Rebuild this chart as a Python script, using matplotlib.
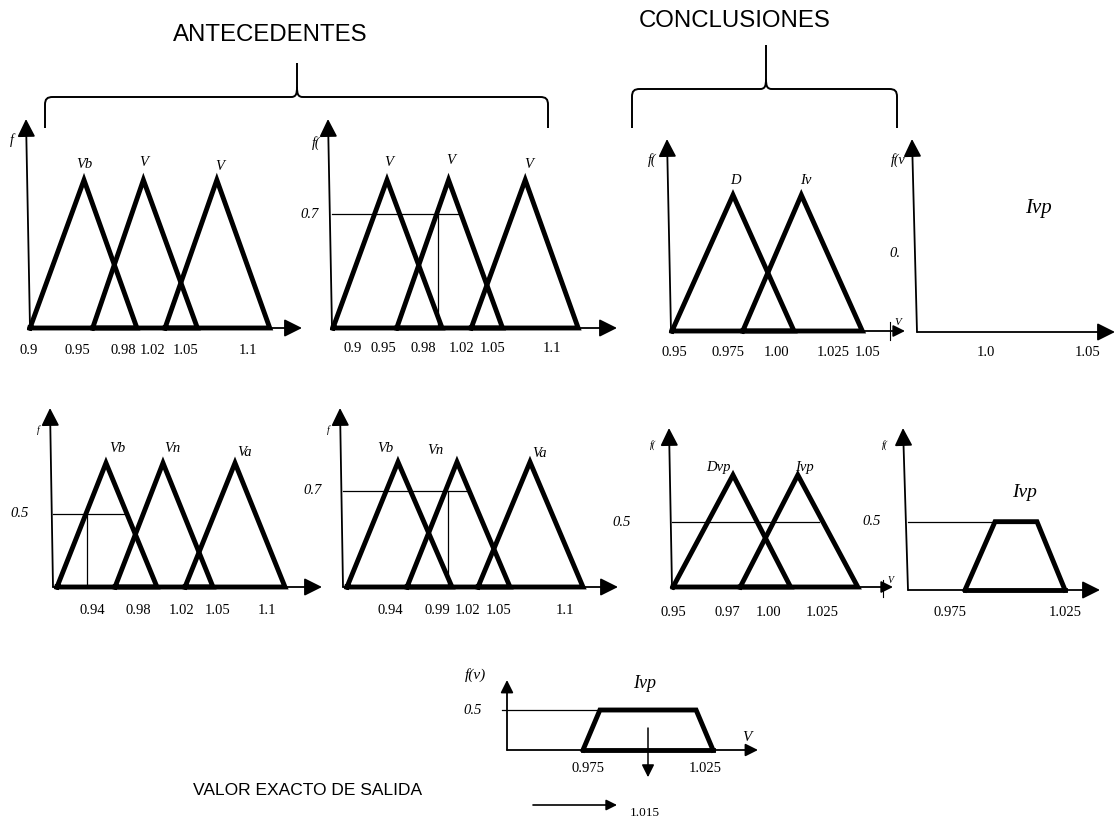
import matplotlib
matplotlib.use("Agg")
import matplotlib.pyplot as plt
from matplotlib.path import Path
from matplotlib.patches import PathPatch

W, H = 1117, 822
SERIF = ["Liberation Serif", "DejaVu Serif"]
SANS = ["Liberation Sans", "DejaVu Sans"]

# ---------------- data (volts / membership) ----------------
# Antecedente 1 (row 1, left)
a1_names = ["Vb", "V", "V"]
a1_left = [0.900, 0.958, 1.025]
a1_peak = [0.950, 1.005, 1.073]
a1_right = [0.999, 1.055, 1.122]
a1_tick_pos = [0.899, 0.944, 0.986, 1.013, 1.044, 1.102]
a1_tick_lab = ["0.9", "0.95", "0.98", "1.02", "1.05", "1.1"]

# Antecedente 2 (row 1, second)
a2_names = ["V", "V", "V"]
a2_left = [0.900, 0.959, 1.028]
a2_peak = [0.950, 1.007, 1.078]
a2_right = [1.001, 1.057, 1.127]
a2_cut_level = 0.77
a2_cut_label = "0.7"
a2_cut_end = 1.016
a2_cut_drop = 0.997
a2_tick_pos = [0.918, 0.947, 0.984, 1.019, 1.048, 1.103]
a2_tick_lab = ["0.9", "0.95", "0.98", "1.02", "1.05", "1.1"]

# Conclusion 1 (row 1, third)
c1_names = ["D", "Iv"]
c1_left = [0.950, 0.979]
c1_peak = [0.975, 1.003]
c1_right = [1.000, 1.028]
c1_tick_pos = [0.951, 0.973, 0.993, 1.016, 1.030]
c1_tick_lab = ["0.95", "0.975", "1.00", "1.025", "1.05"]

# Result 1 (row 1, right, empty)
r1_label = "Ivp"
r1_tick_pos = [1.0, 1.05]
r1_tick_lab = ["1.0", "1.05"]

# Antecedente 3 (row 2, left)
a3_names = ["Vb", "Vn", "Va"]
a3_left = [0.900, 0.958, 1.028]
a3_peak = [0.949, 1.006, 1.078]
a3_right = [1.000, 1.056, 1.128]
a3_cut_level = 0.59
a3_cut_label = "0.5"
a3_cut_end = 0.968
a3_cut_drop = 0.930
a3_tick_pos = [0.935, 0.981, 1.025, 1.061, 1.110]
a3_tick_lab = ["0.94", "0.98", "1.02", "1.05", "1.1"]

# Antecedente 4 (row 2, second)
a4_names = ["Vb", "Vn", "Va"]
a4_left = [0.900, 0.960, 1.031]
a4_peak = [0.951, 1.010, 1.083]
a4_right = [1.005, 1.063, 1.136]
a4_cut_level = 0.77
a4_cut_label = "0.7"
a4_cut_end = 1.020
a4_cut_drop = 1.001
a4_tick_pos = [0.943, 0.990, 1.021, 1.052, 1.118]
a4_tick_lab = ["0.94", "0.99", "1.02", "1.05", "1.1"]

# Conclusion 2 (row 2, third)
c2_names = ["Dvp", "Ivp"]
c2_left = [0.950, 0.978]
c2_peak = [0.975, 1.002]
c2_right = [0.999, 1.027]
c2_cut_level = 0.58
c2_cut_label = "0.5"
c2_cut_end = 1.011
c2_tick_pos = [0.950, 0.9725, 0.990, 1.012]
c2_tick_lab = ["0.95", "0.97", "1.00", "1.025"]

# Result 2 (row 2, right, trapezoid)
r2_label = "Ivp"
r2_trap_v = [0.975, 0.990, 1.011, 1.025]
r2_level = 0.61
r2_cut_label = "0.5"
r2_tick_pos = [0.9675, 1.025]
r2_tick_lab = ["0.975", "1.025"]

# Final aggregated output (bottom)
f_label = "Ivp"
f_trap_v = [0.975, 0.9815, 1.0185, 1.025]
f_level = 0.5
f_cut_label = "0.5"
f_defuzz_pos = 1.0
f_tick_pos = [0.977, 1.022]
f_tick_lab = ["0.975", "1.025"]
f_output_text = "VALOR EXACTO DE SALIDA"
f_output_value = "1.015"

# ---------------- figure ----------------
fig = plt.figure(figsize=(W / 100, H / 100), dpi=100)
ov = fig.add_axes([0, 0, 1, 1])
ov.set_xlim(0, W)
ov.set_ylim(H, 0)
ov.axis("off")

THICK = 3.5
AXLW = 1.3
THIN = 0.9


def arrow(ax, start, end, coords, ms=20, lw=AXLW, hl=0.54, hw=0.27):
    ax.annotate("", xy=end, xytext=start, xycoords=coords, textcoords=coords,
                annotation_clip=False,
                arrowprops=dict(arrowstyle=f"-|>,head_length={hl},head_width={hw}",
                                lw=lw, color="k", mutation_scale=ms,
                                shrinkA=0, shrinkB=0))


def panel(origin, xtip, ytip, anchor_px, anchor_v, ppv, ppm, ms=20, xms=None):
    ox, oy = origin
    v0 = anchor_v + (ox - anchor_px) / ppv
    v1 = anchor_v + (xtip - anchor_px) / ppv
    ax = fig.add_axes([ox / W, 1 - oy / H, (xtip - ox) / W, ppm / H])
    ax.set_xlim(v0, v1)
    ax.set_ylim(0, 1)
    ax.axis("off")
    fx = (ytip[0] - ox) / (xtip - ox)
    fy = (oy - ytip[1]) / ppm
    arrow(ax, (0, 0), (1, 0), "axes fraction", ms=xms or ms)
    arrow(ax, (0, 0), (fx, fy), "axes fraction", ms=ms)
    return ax


def triangles(ax, left, peak, right):
    for l, p, r in zip(left, peak, right):
        ax.plot([l, p, r, l], [0, 1, 0, 0], color="k", lw=THICK,
                solid_joinstyle="miter", clip_on=False)


def names(ax, labels, xs, dx, dy, size=10.5):
    for lab, x, ddx, ddy in zip(labels, xs, dx, dy):
        ax.annotate(lab, (x, 1), xytext=(ddx, ddy), textcoords="offset pixels",
                    ha="center", va="center", fontsize=size, style="italic",
                    family=SERIF, annotation_clip=False)


def ticks(ax, pos, labs, off, size=10.5):
    for p, lab in zip(pos, labs):
        ax.annotate(lab, (p, 0), xytext=(0, -off), textcoords="offset pixels",
                    ha="center", va="center", fontsize=size, family=SERIF,
                    annotation_clip=False)


def cut(ax, level, xend, xdrop=None, label=None, lab_dx=-22, x_start=None):
    xs = ax.get_xlim()[0] if x_start is None else x_start
    ax.plot([xs, xend], [level, level], color="k", lw=THIN, clip_on=False)
    if xdrop is not None:
        ax.plot([xdrop, xdrop], [level, 0], color="k", lw=THIN, clip_on=False)
    if label is not None:
        ax.annotate(label, (ax.get_xlim()[0], level), xytext=(lab_dx, 0),
                    textcoords="offset pixels", ha="center", va="center",
                    fontsize=10.5, style="italic", family=SERIF,
                    annotation_clip=False)


# Row 1 -------------------------------------------------------------
ax1 = panel((30, 328), 302, (26, 119), 30, 0.9, 1080, 148)
triangles(ax1, a1_left, a1_peak, a1_right)
names(ax1, a1_names, a1_peak, [0, 0, 3], [15, 17, 14])
ticks(ax1, a1_tick_pos, a1_tick_lab, 22)

ax2 = panel((332, 328), 617, (328, 119), 333, 0.9, 1080, 148)
triangles(ax2, a2_left, a2_peak, a2_right)
names(ax2, a2_names, a2_peak, [2, 2, 3], [18, 19, 16])
cut(ax2, a2_cut_level, a2_cut_end, a2_cut_drop, a2_cut_label, lab_dx=-22)
ticks(ax2, a2_tick_pos, a2_tick_lab, 21)

ax3 = panel((671, 331), 905, (667, 139), 672, 0.95, 2440, 136, xms=13)
triangles(ax3, c1_left, c1_peak, c1_right)
names(ax3, c1_names, c1_peak, [2, 4], [14, 14])
ticks(ax3, c1_tick_pos, c1_tick_lab, 21)

ax4 = panel((917, 332), 1115, (912, 139), 986, 1.0, 2040, 136)
ticks(ax4, r1_tick_pos, r1_tick_lab, 21)

# Row 2 -------------------------------------------------------------
ax5 = panel((53, 587), 322, (50, 408), 57, 0.9, 1000, 124)
triangles(ax5, a3_left, a3_peak, a3_right)
names(ax5, a3_names, a3_peak, [11, 9, 10], [14, 14, 11])
cut(ax5, a3_cut_level, a3_cut_end, a3_cut_drop, a3_cut_label, lab_dx=-33)
ticks(ax5, a3_tick_pos, a3_tick_lab, 23)

ax6 = panel((343, 587), 618, (340, 408), 347, 0.9, 1000, 125)
triangles(ax6, a4_left, a4_peak, a4_right)
names(ax6, a4_names, a4_peak, [-13, -22, 10], [14, 12, 9])
cut(ax6, a4_cut_level, a4_cut_end, a4_cut_drop, a4_cut_label, lab_dx=-30)
ticks(ax6, a4_tick_pos, a4_tick_lab, 23)

ax7 = panel((672, 587), 893, (669, 428), 673, 0.95, 2400, 112, xms=13)
triangles(ax7, c2_left, c2_peak, c2_right)
names(ax7, c2_names, c2_peak, [-15, 7], [8, 8])
cut(ax7, c2_cut_level, c2_cut_end, None, c2_cut_label, lab_dx=-50)
ticks(ax7, c2_tick_pos, c2_tick_lab, 25)

ax8 = panel((908, 590), 1100, (903, 428), 965, 0.975, 2000, 112)
ax8.plot(r2_trap_v, [0, r2_level, r2_level, 0], color="k", lw=THICK,
         solid_joinstyle="miter", clip_on=False)
ax8.plot([r2_trap_v[0], r2_trap_v[-1]], [0, 0], color="k", lw=THICK, clip_on=False)
cut(ax8, r2_level, r2_trap_v[1], None, r2_cut_label, lab_dx=-36)
ticks(ax8, r2_tick_pos, r2_tick_lab, 22)

# Bottom: aggregated output -----------------------------------------
ax9 = panel((507, 750), 758, (507, 680), 583, 0.975, 2600, 80, ms=14)
ax9.plot(f_trap_v, [0, f_level, f_level, 0], color="k", lw=THICK,
         solid_joinstyle="miter", clip_on=False)
ax9.plot([f_trap_v[0], f_trap_v[-1]], [0, 0], color="k", lw=THICK, clip_on=False)
cut(ax9, f_level, f_trap_v[1], None, f_cut_label, lab_dx=-34,
    x_start=ax9.get_xlim()[0] - 5 / 2600)
arrow(ax9, (f_defuzz_pos, 0.275), (f_defuzz_pos, -0.34), "data", ms=14, lw=1.1)
ticks(ax9, f_tick_pos, f_tick_lab, 18)

# ---------------- decorations in figure pixels ----------------
def brace(xl, xr, xc, yh, yt, ye):
    r = 8
    M, L, C = Path.MOVETO, Path.LINETO, Path.CURVE4
    verts = [(xl, ye), (xl, yh + r), (xl, yh + 2), (xl + 2, yh), (xl + r, yh),
             (xc - 6, yh), (xc - 1, yh), (xc, yh - 3), (xc, yh - 10), (xc, yt),
             (xc, yh - 10), (xc, yh - 3), (xc + 1, yh), (xc + 6, yh),
             (xr - r, yh), (xr - 2, yh), (xr, yh + 2), (xr, yh + r), (xr, ye)]
    codes = [M, L, C, C, C, L, C, C, C, L, M, C, C, C, L, C, C, C, L]
    ov.add_patch(PathPatch(Path(verts, codes), fill=False, lw=1.4, color="k"))


brace(45, 548, 297, 97, 63, 128)
brace(632, 897, 766, 89, 45, 128)
ov.text(270, 35, "ANTECEDENTES", ha="center", va="center", fontsize=17.3, family=SANS)
ov.text(735, 21, "CONCLUSIONES", ha="center", va="center", fontsize=17.3, family=SANS)

it = dict(ha="center", va="center", style="italic", family=SERIF)
ov.text(12, 140, "f", fontsize=10, **it)
ov.text(316, 143, "f(", fontsize=10, **it)
ov.text(652, 160, "f(", fontsize=10, **it)
ov.text(898, 160, "f(v", fontsize=10, **it)
ov.text(895, 253, "0.", fontsize=10.5, **it)
ov.text(1038, 208, r1_label, fontsize=15, **it)
ov.text(898, 322, "V", fontsize=8, **it)
ov.plot([890, 890], [322, 340], color="k", lw=0.8)

ov.text(38, 430, "f", fontsize=7, **it)
ov.text(328, 430, "f", fontsize=7, **it)
ov.text(653, 445, "f(", fontsize=7, **it)
ov.text(885, 445, "f(", fontsize=7, **it)
ov.text(1025, 492, r2_label, fontsize=14, **it)
ov.text(890, 580, "V", fontsize=7, **it)
ov.plot([883, 883], [580, 597], color="k", lw=0.8)

ov.text(475, 675, "f(v)", fontsize=11, **it)
ov.text(645, 683, f_label, fontsize=13, **it)
ov.text(747, 737, "V", fontsize=11, **it)
ov.text(308, 790, f_output_text, ha="center", va="center", fontsize=12.5, family=SANS)
arrow(ov, (533, 805), (617, 805), "data", ms=12, lw=1.2)
ov.text(645, 813, f_output_value, ha="center", va="center", fontsize=9.5, family=SERIF)

fig.savefig("out.png", dpi=100)
